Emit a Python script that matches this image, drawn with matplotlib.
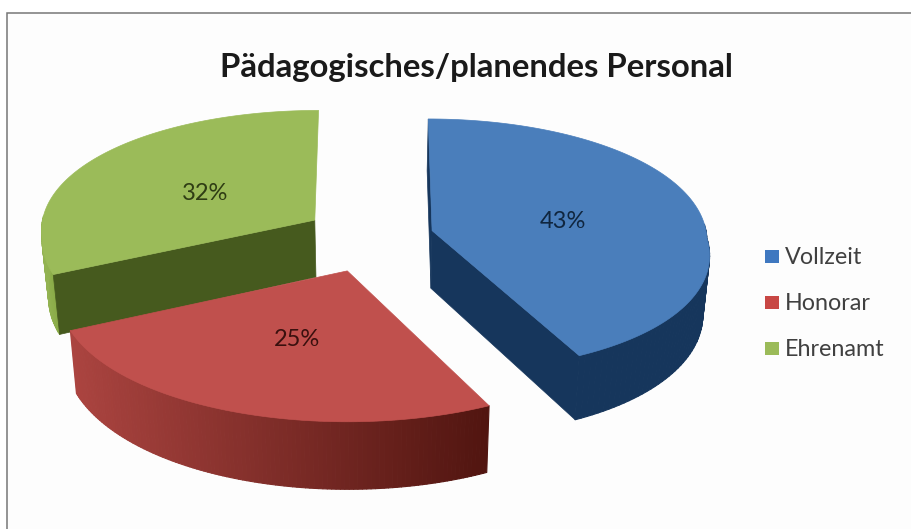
"""3D exploded pie: Paedagogisches/planendes Personal."""
import numpy as np
import matplotlib
matplotlib.use("Agg")
import matplotlib.pyplot as plt
from matplotlib.collections import PolyCollection
from matplotlib.colors import to_rgb
from matplotlib.patches import Polygon, Rectangle

categories = ["Vollzeit", "Honorar", "Ehrenamt"]
values = [43, 25, 32]
top_colors = ["#4a7ebb", "#c0504d", "#9bbb59"]
cut_colors = ["#16365c", "#632523", "#465a1e"]
rim_left = ["#16365c", "#ab4440", "#93b352"]
rim_right = ["#16365c", "#511510", "#8aab48"]
legend_colors = ["#3f78c0", "#c84744", "#9bbb59"]
title = "Pädagogisches/planendes Personal"

plt.rcParams["font.family"] = ["Lato", "DejaVu Sans"]

# camera: plane coords (radius 1) -> pixels, fitted by eye to the picture
VX, VC, A, KX_FRONT, KX_BACK, KY = 373.0, -4.0, 275.0, 0.15, 0.07, 0.1127
CY, G = 238.0, -99.0
EX, EY = 0.236, 0.27
DEPTH, SQUEEZE, SKEW = 58.0, 0.98, 5.0


def project(x, y):
    y = np.asarray(y)
    kx = np.where(y < 0, KX_FRONT, KX_BACK)
    skew = np.where(y < 0, -SKEW * y, 0.0)
    return VX + skew + (VC + A * x) / (1 + kx * y), (CY + G * y) / (1 + KY * y)


def lower(px, py, y):
    return VX + (px - VX) * SQUEEZE, py + DEPTH / (1 + KY * y)


def shade(c0, c1, f):
    c0, c1 = np.array(to_rgb(c0)), np.array(to_rgb(c1))
    return tuple(c0 + (c1 - c0) * f)


fig = plt.figure(figsize=(9.12, 5.29), dpi=100)
ax = fig.add_axes([0, 0, 1, 1])
ax.set_xlim(0, 912)
ax.set_ylim(529, 0)
ax.axis("off")

ax.add_patch(Rectangle((7, 13), 905, 516, fc="#fdfdfd", ec="none"))
ax.plot([7, 7, 912], [529, 13, 13], color="#777777", lw=1.1, solid_joinstyle="miter")

fracs = np.array(values) / sum(values) * 2 * np.pi
ends = np.cumsum(fracs)
starts = ends - fracs
# which cut faces show from this view: (blue both, green the left one)
visible_cuts = {0: [0, -1], 1: [], 2: [0]}

# green first, then blue, red sits in front
for i in [2, 0, 1]:
    t = np.linspace(starts[i], ends[i], 120)
    mid = (starts[i] + ends[i]) / 2
    ox, oy = EX * np.sin(mid), EY * np.cos(mid)
    rx, ry = ox + np.sin(t), oy + np.cos(t)
    px, py = project(rx, ry)
    bx, by = lower(px, py, ry)
    cx_, cy_ = project(ox, oy)
    cbx, cby = lower(cx_, cy_, oy)

    # outer rim only on the front half, in overlapping steps for the shading
    front = np.flatnonzero(np.cos(t) < 0.05)
    if len(front) > 2:
        f = (px - px[front].min()) / np.ptp(px[front])
        quads, colors = [], []
        for j, j2 in zip(front[:-1], front[1:]):
            quads.append([(px[j], py[j]), (px[j2], py[j2]), (bx[j2], by[j2]), (bx[j], by[j])])
            colors.append(shade(rim_left[i], rim_right[i], f[j]))
        ax.add_collection(PolyCollection(quads, facecolors=colors, edgecolors=colors, lw=0.8))

    for k in visible_cuts[i]:
        ax.add_patch(Polygon([(cx_, cy_), (px[k], py[k]), (bx[k], by[k]), (cbx, cby)],
                             fc=cut_colors[i], ec=cut_colors[i], lw=0.5))
    ax.add_patch(Polygon(np.vstack([[cx_, cy_], np.c_[px, py]]), fc=top_colors[i],
                         ec=top_colors[i], lw=0.5))

ax.text(476, 68, title, ha="center", va="center", fontsize=23.7, fontweight="bold", color="#1a1a1a")
ax.text(563, 222, f"{values[0]}%", ha="center", va="center", fontsize=17, color="#10263f")
ax.text(297, 340, f"{values[1]}%", ha="center", va="center", fontsize=17, color="#3a100e")
ax.text(205, 194, f"{values[2]}%", ha="center", va="center", fontsize=17, color="#2f3d14")

for name, c, y in zip(categories, legend_colors, [256, 302, 348]):
    ax.add_patch(Rectangle((765, y - 6.5), 14, 13, fc=c, ec="none"))
    ax.text(785, y + 2, name, ha="left", va="center", fontsize=16.8, color="#404040")

fig.savefig("out.png", dpi=100)
